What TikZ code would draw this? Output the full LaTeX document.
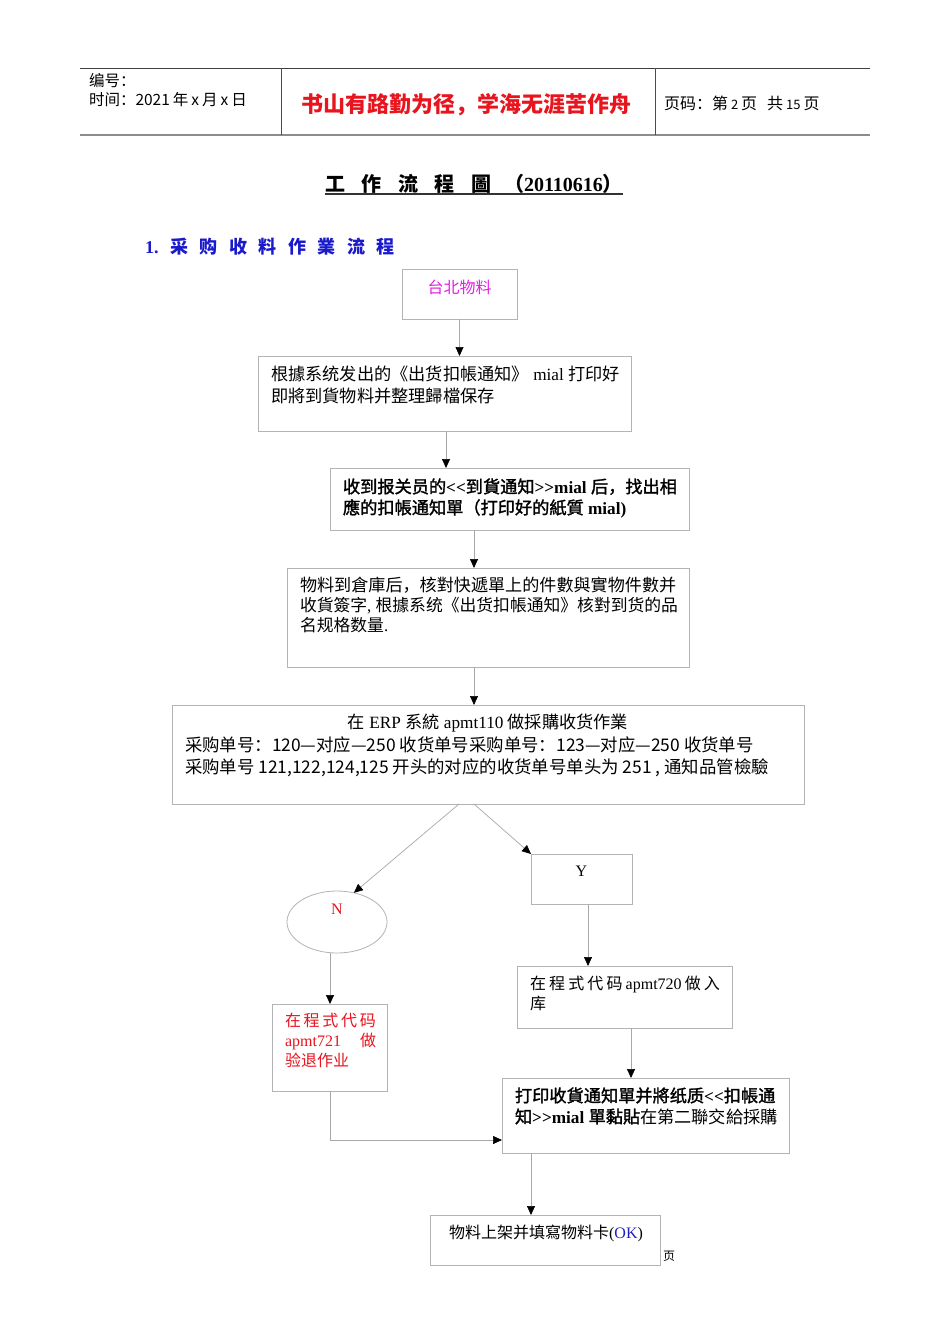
\documentclass[tikz,border=0pt]{standalone}
\usepackage{fontspec}
\setmainfont{Noto Sans CJK SC}
\newfontfamily\lr{Liberation Serif}
\newfontfamily\cjkb[FakeBold=1.6]{Noto Sans CJK SC}
\usetikzlibrary{arrows.meta,shapes.geometric,calc}
\definecolor{boxgray}{HTML}{B4B4B4}
\definecolor{linegray}{HTML}{A8A8A8}
\definecolor{redtxt}{HTML}{E8141E}
\definecolor{magtxt}{HTML}{E020E0}
\definecolor{bluetxt}{HTML}{1A1ACC}
\definecolor{oktxt}{HTML}{2020C0}
\newcommand{\myfs}[2]{\fontsize{#1}{#2}\selectfont}
\tikzset{
  box/.style={draw=boxgray, line width=0.8pt, inner sep=0pt, outer sep=0pt},
  arr/.style={draw=linegray, line width=0.7pt, -{Triangle[length=9pt,width=8pt,color=black]}},
  txt/.style={inner sep=0pt, outer sep=0pt, anchor=base west},
  ctxt/.style={inner sep=0pt, outer sep=0pt, anchor=base},
}
\begin{document}
\begin{tikzpicture}[x=1pt,y=-1pt]
\useasboundingbox (0,0) rectangle (950,1344);
\fill[white] (0,0) rectangle (950,1344);
% header
\coordinate (hTL) at (80,68);
\coordinate (hTR) at (870,68);
\coordinate (hBL) at (80,135);
\coordinate (hBR) at (870,135);
\draw[line width=1pt, black!75] (hTL) -- (hTR);
\draw[line width=2pt, black!45] (hBL) -- (hBR);
\draw[line width=1pt, black!70] (281,68) -- (281,135);
\draw[line width=1pt, black!70] (655,68) -- (655,135);
\node[txt] (h1) at (89,86) {\myfs{15.5}{18}编号：};
\node[txt] (h2) at (89,105) {\myfs{15.5}{18}时间：2021\hspace{3pt}年\hspace{3pt}x\hspace{3pt}月\hspace{3pt}x\hspace{3pt}日};
\node[txt, text=redtxt] (h3) at (301,112) {\myfs{22}{26}\bfseries 书山有路勤为径，学海无涯苦作舟};
\node[txt] (h4) at (664,109) {\myfs{16}{18}页码：第\hspace{3pt}{\myfs{13}{16}2}\hspace{3pt}页\hspace{10pt}共\hspace{3pt}{\myfs{13}{16}15}\hspace{3pt}页};
% title
\node[txt] (title) at (325,191) {\myfs{20}{24}\bfseries 工\hspace{16.5pt}作\hspace{16.5pt}流\hspace{16.5pt}程\hspace{16.5pt}圖\hspace{13pt}（{\lr 20110616}）};
\draw[line width=1.2pt, black!80] ($(title.base west)+(0,3)$) -- ($(title.base east)+(0,3)$);
\node[txt, text=bluetxt] (sec) at (145,253) {\myfs{18}{22}\bfseries {\lr 1.}\hspace{12pt}采\hspace{11.5pt}购\hspace{11.5pt}收\hspace{11.5pt}料\hspace{11.5pt}作\hspace{11.5pt}業\hspace{11.5pt}流\hspace{11.5pt}程};
% boxes
\node[box, minimum width=115pt, minimum height=50pt] (b1) at (459.5,294) {};
\node[box, minimum width=373pt, minimum height=75pt] (b2) at (444.5,393.5) {};
\node[box, minimum width=359pt, minimum height=62pt] (b3) at (509.5,499) {};
\node[box, minimum width=402pt, minimum height=99pt] (b4) at (488,617.5) {};
\node[box, minimum width=632pt, minimum height=99pt] (b5) at (488,754.5) {};
\node[box, minimum width=101pt, minimum height=50pt] (bY) at (581.5,879) {};
\node[box, ellipse, minimum width=100pt, minimum height=62pt] (eN) at (337,922) {};
\node[box, minimum width=115pt, minimum height=87pt] (bR) at (329.5,1047.5) {};
\node[box, minimum width=215pt, minimum height=62pt] (b7) at (624.5,997) {};
\node[box, minimum width=287pt, minimum height=75pt] (b8) at (645.5,1115.5) {};
\node[box, minimum width=230pt, minimum height=50pt] (b9) at (545,1240) {};
% texts
\node[ctxt, text=magtxt] (t1) at (459.5,293) {\myfs{16}{20}台北物料};
\node[txt] (t2a) at (271,380) {\myfs{17.2}{20}根據系统发出的《出货扣帳通知》{\lr\ mial }打印好};
\node[txt] (t2b) at (271,402) {\myfs{17.2}{20}即將到貨物料并整理歸檔保存};
\node[txt] (t3a) at (343,493) {\myfs{17.2}{20}\cjkb 收到报关员的{\lr\bfseries <<}到貨通知{\lr\bfseries >>mial }后，找出相};
\node[txt] (t3b) at (343,514) {\myfs{17.2}{20}\cjkb 應的扣帳通知單（打印好的紙質{\lr\bfseries\ mial)}};
\node[txt] (t4a) at (300,591) {\myfs{17.1}{20}物料到倉庫后，核對快遞單上的件數與實物件數并};
\node[txt] (t4b) at (300,611) {\myfs{16.8}{20}收貨簽字{\lr , }根據系统《出货扣帳通知》核對到货的品};
\node[txt] (t4c) at (300,631) {\myfs{16.8}{20}名规格数量{\lr .}};
\node[ctxt] (t5a) at (488,728) {\myfs{17.2}{20}在{\lr\ ERP }系統{\lr\ apmt110 }做採購收货作業};
\node[txt] (t5b) at (185,751) {\myfs{17.4}{20}采购单号：120—对应—250 收货单号采购单号：123—对应—250 收货单号};
\node[txt] (t5c) at (185,773) {\myfs{17.4}{20}采购单号 121,122,124,125 开头的对应的收货单号单头为 251 , 通知品管檢驗};
\node[ctxt] (tY) at (581.5,876) {\myfs{16}{20}\lr Y};
\node[ctxt, text=redtxt] (tN) at (337,914) {\myfs{16}{20}\lr N};
\node[txt, text=redtxt] (tRa) at (285,1026) {\myfs{16}{20}\makebox[91pt][s]{在\hfill 程\hfill 式\hfill 代\hfill 码}};
\node[txt, text=redtxt] (tRb) at (285,1046) {\myfs{16}{20}\makebox[91pt][s]{{\lr apmt721}\hfill 做}};
\node[txt, text=redtxt] (tRc) at (285,1066) {\myfs{16}{20}验退作业};
\node[txt] (t7a) at (530,989) {\myfs{16}{20}\makebox[190pt][s]{在\hfill 程\hfill 式\hfill 代\hfill 码\hfill{\lr apmt720}\hfill 做\hfill 入}};
\node[txt] (t7b) at (530,1009) {\myfs{16}{20}库};
\node[txt] (t8a) at (515,1102) {\myfs{17.2}{20}\cjkb 打印收貨通知單并將纸质{\lr\bfseries <<}扣帳通};
\node[txt] (t8b) at (515,1123) {\myfs{17.2}{20}{\cjkb 知{\lr\bfseries >>mial }單黏貼}在第二聯交給採購};
\node[ctxt] (t9) at (546,1238) {\myfs{16}{20}物料上架并填寫物料卡{\lr (}{\color{oktxt}\lr OK}{\lr )}};
\node[txt] (pg) at (663,1260) {\myfs{12}{14}页};
% connectors
\draw[arr] (b1.south) -- (b1.south |- b2.north);
\draw[arr] (b2.south -| 446,0) -- (b3.north -| 446,0);
\draw[arr] (b3.south -| 474,0) -- (b4.north -| 474,0);
\draw[arr] (b4.south -| 474,0) -- (b5.north -| 474,0);
\draw[arr] ([xshift=-29pt]b5.south) -- (eN.60);
\draw[arr] ([xshift=-14pt]b5.south) -- (bY.north west);
\draw[arr] (bY.south -| 588,0) -- (b7.north -| 588,0);
\draw[arr] (eN.south -| 330,0) -- (bR.north -| 330,0);
\draw[arr] (b7.south -| 631,0) -- (b8.north -| 631,0);
\coordinate (elb) at (330,1140);
\draw[arr] (bR.south -| elb) -- (elb) -- (elb -| b8.west);
\draw[arr] (b8.south -| 531,0) -- (b9.north -| 531,0);
\end{tikzpicture}
\end{document}
